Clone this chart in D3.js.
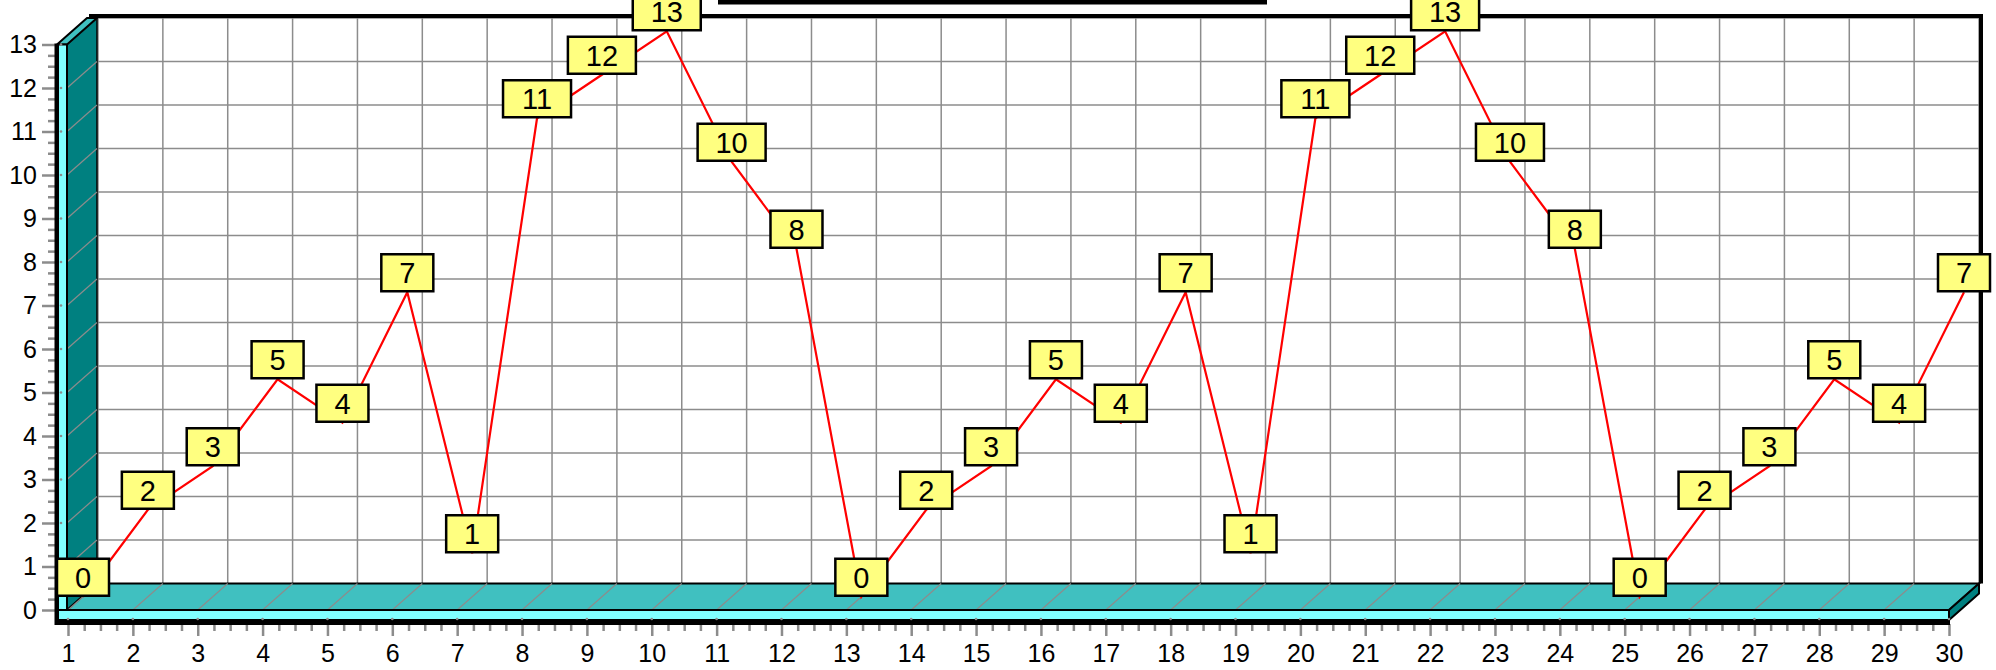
<!DOCTYPE html>
<html>
<head>
<meta charset="utf-8">
<script src="https://cdn.jsdelivr.net/npm/d3@7"></script>
<style>
  body { margin: 0; background: #fff; }
  svg { display: block; font-family: "Liberation Sans", Arial, sans-serif; }
</style>
</head>
<body>
<svg id="chart"></svg>
<script>
// data
var days = d3.range(1, 31);
var values = [0, 2, 3, 5, 4, 7, 1, 11, 12, 13, 10, 8,
              0, 2, 3, 5, 4, 7, 1, 11, 12, 13, 10, 8,
              0, 2, 3, 5, 4, 7];
var yTicks = d3.range(0, 14);

var screen = { width: 1996, height: 670 };
var depth = { dx: 30, dy: -26.5 };   // 3d offset of the back wall

var svg = d3.select('#chart')
  .attr('width', screen.width)
  .attr('height', screen.height);

var xScale = d3.scaleLinear().domain([1, 30]).range([68, 1949]);
var yScale = d3.scaleLinear().domain([0, 13]).range([610, 44.5]);

var xBack = function(d) { return xScale(d) + depth.dx; };
var yBack = function(d) { return yScale(d) + depth.dy; };

var gridColor = '#8c8c8c';
var cyan = '#80ffff', teal = '#40c0c0', darkTeal = '#008080';

// back wall
var wall = svg.append('g').classed('wall', true);
wall.append('rect')
  .attr('x', xBack(1) - 1).attr('y', yBack(13))
  .attr('width', xBack(30) - xBack(1) + 1)
  .attr('height', yBack(0) - yBack(13))
  .attr('fill', '#fff');
wall.selectAll('line.h')
  .data(yTicks.filter(function(d) { return d > 0; }))
  .enter().append('line').classed('h', true)
  .attr('x1', xBack(1) - 1).attr('x2', xBack(30))
  .attr('y1', function(d) { return yBack(d); })
  .attr('y2', function(d) { return yBack(d); })
  .attr('stroke', gridColor).attr('stroke-width', 1.5);
wall.selectAll('line.v')
  .data(days)
  .enter().append('line').classed('v', true)
  .attr('x1', function(d) { return xBack(d); })
  .attr('x2', function(d) { return xBack(d); })
  .attr('y1', yBack(13)).attr('y2', yBack(0))
  .attr('stroke', gridColor).attr('stroke-width', 1.5);

// left wall
var lw = svg.append('g').classed('leftWall', true);
lw.append('polygon')
  .attr('points', [[67, yScale(13)], [97, yBack(13)], [97, yBack(0)], [67, yScale(0)]].join(' '))
  .attr('fill', darkTeal).attr('stroke', '#000').attr('stroke-width', 1.5);
lw.selectAll('line')
  .data(yTicks)
  .enter().append('line')
  .attr('x1', 67).attr('x2', 97)
  .attr('y1', function(d) { return yScale(d); })
  .attr('y2', function(d) { return yBack(d); })
  .attr('stroke', gridColor).attr('stroke-width', 1.2);
lw.append('polygon')
  .attr('points', [[57, yScale(13)], [67, yScale(13)], [97, yBack(13)], [87, yBack(13)]].join(' '))
  .attr('fill', teal).attr('stroke', '#000').attr('stroke-width', 2);

// floor
var floor = svg.append('g').classed('floor', true);
floor.append('polygon')
  .attr('points', [[67, yScale(0)], [xScale(30), yScale(0)], [xBack(30), yBack(0)], [97, yBack(0)]].join(' '))
  .attr('fill', teal).attr('stroke', '#000').attr('stroke-width', 2);
floor.selectAll('line')
  .data(days)
  .enter().append('line')
  .attr('x1', function(d) { return xScale(d); })
  .attr('x2', function(d) { return xBack(d); })
  .attr('y1', yScale(0)).attr('y2', yBack(0))
  .attr('stroke', gridColor).attr('stroke-width', 1.2);
floor.append('polygon')
  .attr('points', [[xScale(30), yScale(0)], [xBack(30), yBack(0)], [xBack(30), yBack(0) + 10], [xScale(30), yScale(0) + 10]].join(' '))
  .attr('fill', darkTeal).attr('stroke', '#000').attr('stroke-width', 2);
floor.append('rect')
  .attr('x', 58).attr('y', yScale(0))
  .attr('width', xScale(30) - 58).attr('height', 10)
  .attr('fill', cyan).attr('stroke', '#000').attr('stroke-width', 2);
// front face of left wall
lw.append('rect')
  .attr('x', 58).attr('y', yScale(13))
  .attr('width', 9).attr('height', yScale(0) - yScale(13))
  .attr('fill', cyan).attr('stroke', '#000').attr('stroke-width', 2);
lw.selectAll('circle')
  .data(yTicks)
  .enter().append('circle')
  .attr('cx', 61).attr('cy', function(d) { return yScale(d); })
  .attr('r', 1.3).attr('fill', gridColor);
floor.selectAll('circle')
  .data(days)
  .enter().append('circle')
  .attr('cx', function(d) { return xScale(d); }).attr('cy', 619)
  .attr('r', 1.3).attr('fill', gridColor);

// black border of back wall
svg.append('path')
  .attr('d', 'M' + (xBack(1) - 9) + ',' + (yBack(13) - 2) + 'H' + (xBack(30) + 2) + 'V' + yBack(0))
  .attr('fill', 'none').attr('stroke', '#000').attr('stroke-width', 4);

// axes
var yAxis = d3.axisLeft(yScale).tickValues(yTicks).tickSize(13).tickPadding(5).tickSizeOuter(0);
var yMinor = d3.axisLeft(yScale)
  .tickValues(d3.range(0, 13.01, 0.25).filter(function(d) { return d % 1 != 0; }))
  .tickSize(7).tickFormat('').tickSizeOuter(0);
var xAxis = d3.axisBottom(xScale).tickValues(days).tickSize(12).tickPadding(8).tickSizeOuter(0);
var xMinor = d3.axisBottom(xScale)
  .tickValues(d3.range(1, 30.01, 0.25).filter(function(d) { return d % 1 != 0; }))
  .tickSize(7).tickFormat('').tickSizeOuter(0);

var yA = svg.append('g').classed('yAxis', true).attr('transform', 'translate(55,0)');
yA.call(yAxis);
yA.append('g').call(yMinor);
var xA = svg.append('g').classed('xAxis', true).attr('transform', 'translate(0,624)');
xA.call(xAxis);
xA.append('g').call(xMinor);
svg.selectAll('.yAxis .domain, .xAxis .domain').remove();
svg.selectAll('.yAxis line, .xAxis line').attr('stroke', gridColor).attr('stroke-width', 2.5);
svg.selectAll('.yAxis text, .xAxis text')
  .attr('font-size', 25).attr('fill', '#000')
  .attr('font-family', '"Liberation Sans", Arial, sans-serif');

svg.append('path')
  .attr('d', 'M56.5,' + (yScale(13) - 1) + 'V623H' + (xScale(30) + 1))
  .attr('fill', 'none').attr('stroke', '#000').attr('stroke-width', 4);

// series at mid depth
var px = function(i) { return xScale(days[i]) + depth.dx / 2; };
var py = function(d) { return yScale(d) + depth.dy / 2; };

var line = d3.line()
  .x(function(d, i) { return px(i); })
  .y(function(d) { return py(d); });

var plot = svg.append('g').classed('plot', true);
plot.append('path')
  .datum(values)
  .attr('d', line)
  .attr('fill', 'none')
  .attr('stroke', '#ff0000')
  .attr('stroke-width', 2.2);

var labels = plot.selectAll('g.label')
  .data(values)
  .enter().append('g').classed('label', true)
  .attr('transform', function(d, i) { return 'translate(' + px(i) + ',' + py(d) + ')'; });
labels.append('rect')
  .attr('x', function(d) { return String(d).length > 1 ? -34 : -26; })
  .attr('y', -38)
  .attr('width', function(d) { return String(d).length > 1 ? 68 : 52; })
  .attr('height', 37)
  .attr('fill', '#ffff80')
  .attr('stroke', '#000')
  .attr('stroke-width', 2.5);
labels.append('text')
  .attr('x', 0).attr('y', -9)
  .attr('text-anchor', 'middle')
  .attr('font-size', 29)
  .text(function(d) { return d; });

// title strip at the top edge
svg.append('rect')
  .attr('x', 718).attr('y', 0)
  .attr('width', 549).attr('height', 4.5)
  .attr('fill', '#000');
</script>
</body>
</html>
